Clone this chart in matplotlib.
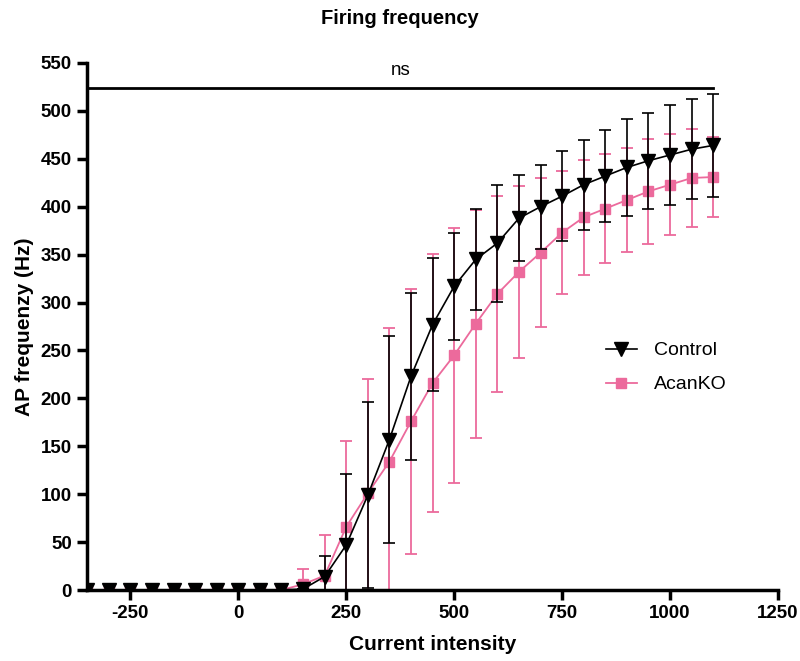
import matplotlib
matplotlib.use("Agg")
import matplotlib.pyplot as plt
from matplotlib.lines import Line2D
import numpy as np

plt.rcParams['font.family'] = ['Liberation Sans', 'DejaVu Sans']
plt.rcParams['axes.unicode_minus'] = False

current = list(range(-350, 1101, 50))

control_mean = [0, 0, 0, 0, 0, 0, 0, 0, 0, 0, 1, 14, 47, 99, 157, 223, 277, 317, 345, 362,
                388, 400, 411, 423, 432, 441, 448, 454, 460, 464]
control_sd = [0, 0, 0, 0, 0, 0, 0, 0, 0, 0, 0, 21, 74, 97, 108, 87, 69, 56, 53, 61,
              45, 44, 47, 47, 48, 51, 50, 52, 52, 54]

acan_mean = [0, 0, 0, 0, 0, 0, 0, 0, 0, 0, 6, 15, 66, 101, 134, 176, 216, 245, 278, 309,
             332, 352, 373, 389, 398, 407, 416, 423, 430, 431]
acan_sd = [0, 0, 0, 0, 0, 0, 0, 0, 0, 0, 16, 42, 89, 119, 139, 138, 135, 133, 119, 102,
           90, 78, 64, 60, 57, 54, 55, 53, 51, 42]

xticks = [-250, 0, 250, 500, 750, 1000, 1250]
yticks = list(range(0, 551, 50))

pink = '#EC6A9C'

fig = plt.figure(figsize=(8, 6.61), dpi=100)
ax = fig.add_axes([0.109, 0.1074, 0.8635, 0.7973])

ax.errorbar(current, acan_mean, yerr=acan_sd, color=pink, marker='s', markersize=7,
            lw=1.3, elinewidth=1.3, capsize=4, capthick=1.3, zorder=2)
ax.errorbar(current, control_mean, yerr=control_sd, color='black', marker='v', markersize=9.5,
            lw=1.2, elinewidth=1.2, capsize=4, capthick=1.2, zorder=3)

ax.set_xlim(-350, 1250)
ax.set_ylim(0, 550)
ax.set_xticks(xticks)
ax.set_yticks(yticks)
for s in ['top', 'right']:
    ax.spines[s].set_visible(False)
for s in ['left', 'bottom']:
    ax.spines[s].set_linewidth(2.5)
ax.tick_params(axis='both', direction='out', length=7, width=2.5, labelsize=13.5, pad=4)
for lbl in ax.get_xticklabels() + ax.get_yticklabels():
    lbl.set_fontweight('bold')

ax.set_xlabel('Current intensity', fontsize=15, fontweight='bold', labelpad=9)
ax.set_ylabel('AP frequenzy (Hz)', fontsize=15, fontweight='bold', labelpad=5)
fig.text(0.5, 0.972, 'Firing frequency', fontsize=14.5, fontweight='bold', ha='center', va='center')

# significance bar
ax.plot([current[0], current[-1]], [524, 524], color='black', lw=2, clip_on=False, zorder=4)
ax.text((current[0] + current[-1]) / 2, 533, 'ns', ha='center', va='bottom', fontsize=13.5)

handles = [Line2D([], [], color='black', marker='v', markersize=9.5, lw=1.2),
           Line2D([], [], color=pink, marker='s', markersize=7, lw=1.3)]
ax.legend(handles, ['Control', 'AcanKO'], loc='center left', bbox_to_anchor=(0.725, 0.422),
          frameon=False, fontsize=14, handlelength=1.6, labelspacing=0.85, handletextpad=0.9)

fig.savefig('out.png', dpi=100)
